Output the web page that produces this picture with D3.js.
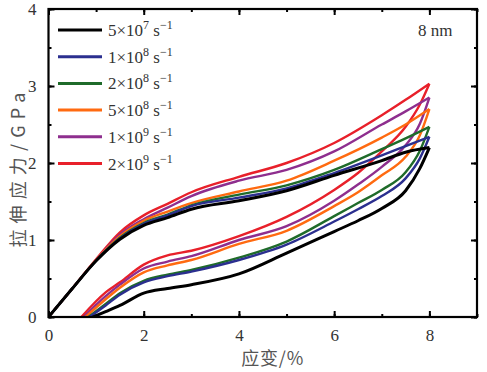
<!DOCTYPE html>
<html lang="zh">

<head>
    <meta charset="UTF-8">
    <title>拉伸应力-应变</title>
    <style>
        body { margin: 0; background: #fff; }
        .axis text { font-family: "Liberation Serif", "DejaVu Serif", serif; font-size: 17px; fill: #333; }
        .axis path, .axis line { fill: none; stroke: #000; }
        .lab { font-family: "Noto Sans CJK SC", "Liberation Serif", serif; font-size: 18px; fill: #555; }
        .leg { font-family: "Liberation Serif", serif; font-size: 17px; fill: #333; }
    </style>
</head>

<body>
    <div id="graph"></div>

    <script src="https://cdnjs.cloudflare.com/ajax/libs/d3/7.0.0/d3.min.js"></script>

    <script>
        // strain rates (legend)
        var rates = [["5", "7"], ["1", "8"], ["2", "8"], ["5", "8"], ["1", "9"], ["2", "9"]];
        var colors = ["#000000", "#2b2f8f", "#1f6b2a", "#ff6a10", "#8e2e8e", "#e8202a"];

        // loading branch: strain grid and stress (GPa) per rate
        var loadStrain = [0, 0.5, 1, 1.5, 2, 2.5, 3, 4, 5, 6, 7, 7.5, 8];
        var loadStress = [
            [0, 0.37, 0.73, 1.01, 1.19, 1.29, 1.40, 1.51, 1.64, 1.84, 2.03, 2.14, 2.20],
            [0, 0.37, 0.73, 1.02, 1.21, 1.32, 1.44, 1.55, 1.67, 1.87, 2.10, 2.22, 2.34],
            [0, 0.37, 0.73, 1.03, 1.22, 1.33, 1.45, 1.59, 1.71, 1.91, 2.18, 2.32, 2.47],
            [0, 0.37, 0.74, 1.05, 1.25, 1.37, 1.48, 1.63, 1.77, 2.03, 2.33, 2.50, 2.70],
            [0, 0.37, 0.74, 1.07, 1.27, 1.42, 1.57, 1.77, 1.91, 2.15, 2.50, 2.67, 2.85],
            [0, 0.37, 0.75, 1.10, 1.32, 1.47, 1.62, 1.82, 2.00, 2.26, 2.62, 2.82, 3.03]
        ];

        // unloading branch: residual strain first, then common grid up to 8
        var residual = [0.93, 0.86, 0.84, 0.78, 0.74, 0.69];
        var unloadStrain = [1.2, 1.5, 2, 2.5, 3, 4, 5, 6, 6.5, 7, 7.5, 7.8, 8];
        var unloadStress = [
            [0.07, 0.15, 0.31, 0.37, 0.42, 0.56, 0.83, 1.11, 1.25, 1.41, 1.64, 1.93, 2.20],
            [0.15, 0.29, 0.45, 0.53, 0.59, 0.74, 0.94, 1.24, 1.40, 1.57, 1.80, 2.06, 2.34],
            [0.17, 0.31, 0.47, 0.55, 0.61, 0.77, 0.98, 1.31, 1.48, 1.65, 1.88, 2.16, 2.47],
            [0.23, 0.38, 0.58, 0.67, 0.74, 0.95, 1.12, 1.44, 1.62, 1.84, 2.08, 2.36, 2.70],
            [0.27, 0.42, 0.63, 0.72, 0.79, 1.00, 1.18, 1.51, 1.72, 1.95, 2.23, 2.51, 2.85],
            [0.32, 0.45, 0.68, 0.80, 0.86, 1.05, 1.30, 1.65, 1.87, 2.15, 2.47, 2.76, 3.03]
        ];

        var xTicks = [0, 2, 4, 6, 8];
        var yTicks = [0, 1, 2, 3, 4];

        var W = 487, H = 372;
        var x = d3.scaleLinear().domain([0, 9]).range([48.5, 477]);
        var y = d3.scaleLinear().domain([0, 4]).range([317, 9]);

        var svg = d3.select("#graph").append("svg")
            .attr("width", W)
            .attr("height", H);

        var line = d3.line()
            .curve(d3.curveMonotoneX)
            .x(d => x(d[0]))
            .y(d => y(d[1]));

        svg.append("clipPath").attr("id", "clip")
            .append("rect")
            .attr("x", x(0)).attr("y", y(4))
            .attr("width", x(9) - x(0)).attr("height", y(0) - y(4));

        var plot = svg.append("g").attr("clip-path", "url(#clip)");

        // red first so black ends on top
        for (var i = rates.length - 1; i >= 0; i--) {
            var up = loadStrain.map((s, j) => [s, loadStress[i][j]]);
            var down = [[residual[i], 0]].concat(unloadStrain.map((s, j) => [s, unloadStress[i][j]]));
            var w = i == 0 ? 3 : 2.4;
            [up, down].forEach(function (pts) {
                plot.append("path")
                    .datum(pts)
                    .attr("fill", "none")
                    .attr("stroke", colors[i])
                    .attr("stroke-width", w)
                    .attr("stroke-linejoin", "round")
                    .attr("d", line);
            });
        }

        // axes with inward ticks, mirrored on top and right
        var xMinor = d3.range(0, 10, 1), yMinor = d3.range(0, 4.01, 0.5);

        function axis(gen, tx, ty, vals, size, labels) {
            var a = gen.tickValues(vals).tickSize(size);
            if (labels) a.tickPadding(12).tickFormat(d3.format("d"));
            else a.tickFormat("");
            svg.append("g")
                .attr("class", "axis")
                .attr("transform", "translate(" + tx + "," + ty + ")")
                .call(a)
                .call(g => g.select(".domain").remove());
        }

        axis(d3.axisBottom(x), 0, y(0), xMinor, -3, false);
        axis(d3.axisBottom(x), 0, y(0), xTicks, -6, true);
        axis(d3.axisTop(x), 0, y(4), xMinor, -3, false);
        axis(d3.axisTop(x), 0, y(4), xTicks, -6, false);
        axis(d3.axisLeft(y), x(0), 0, yMinor, -3, false);
        axis(d3.axisLeft(y), x(0), 0, yTicks, -6, true);
        axis(d3.axisRight(y), x(9), 0, yMinor, -3, false);
        axis(d3.axisRight(y), x(9), 0, yTicks, -6, false);

        svg.selectAll(".axis line").attr("stroke-width", 2);

        // frame
        svg.append("rect")
            .attr("x", x(0)).attr("y", y(4))
            .attr("width", x(9) - x(0)).attr("height", y(0) - y(4))
            .attr("fill", "none").attr("stroke", "#000").attr("stroke-width", 2.2);

        // legend
        var leg = svg.append("g");
        rates.forEach(function (r, i) {
            var ly = 30 + i * 26.7;
            leg.append("line")
                .attr("x1", 58).attr("x2", 102)
                .attr("y1", ly).attr("y2", ly)
                .attr("stroke", colors[i]).attr("stroke-width", 3);
            var t = leg.append("text").attr("class", "leg")
                .attr("x", 108).attr("y", ly + 6);
            t.append("tspan").text(r[0] + "×10");
            t.append("tspan").attr("dy", -7).attr("font-size", 12).text(r[1]);
            t.append("tspan").attr("dy", 7).text(" s");
            t.append("tspan").attr("dy", -7).attr("font-size", 12).text("−1");
        });

        svg.append("text").attr("class", "leg")
            .attr("x", 418).attr("y", 36)
            .text("8 nm");

        // axis titles
        svg.append("text").attr("class", "lab")
            .attr("x", x(4.7)).attr("y", 365)
            .attr("text-anchor", "middle")
            .attr("textLength", 62).attr("lengthAdjust", "spacing")
            .text("应变/%");

        svg.append("text").attr("class", "lab")
            .attr("transform", "translate(25," + 170 + ") rotate(-90)")
            .attr("text-anchor", "middle")
            .attr("font-size", 20)
            .attr("textLength", 155).attr("lengthAdjust", "spacing")
            .text("拉伸应力/GPa");
    </script>
</body>

</html>
